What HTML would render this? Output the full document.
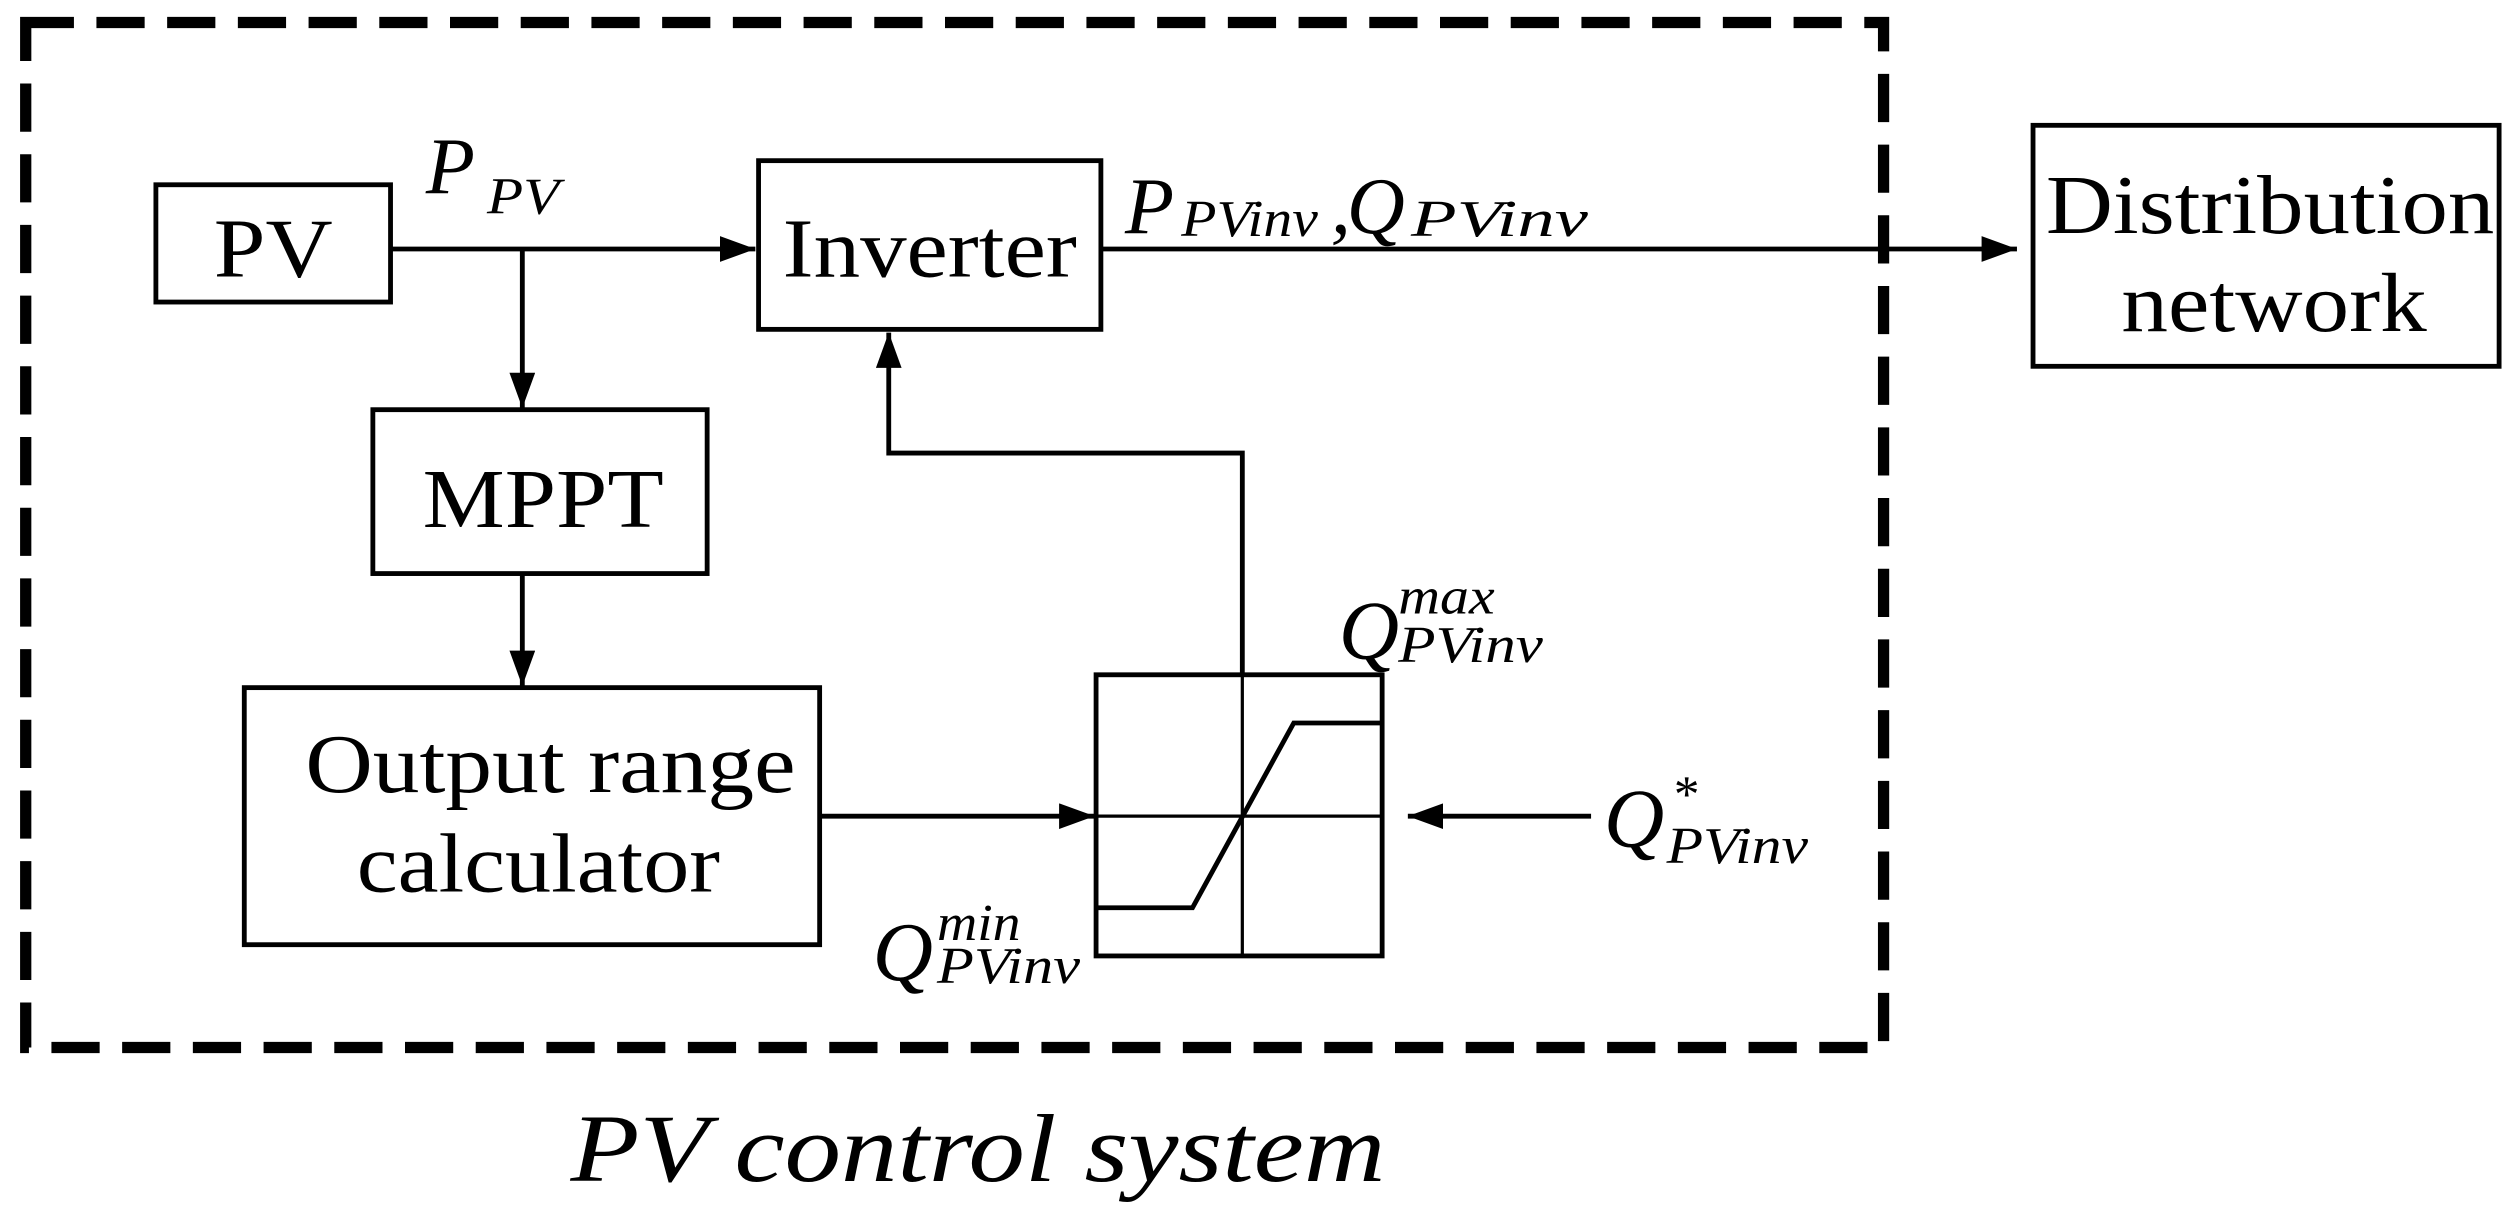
<!DOCTYPE html>
<html><head><style>html,body{margin:0;padding:0;background:#fff}svg{display:block}</style></head>
<body>
<svg width="2520" height="1213" viewBox="0 0 1568 755" preserveAspectRatio="none" xmlns="http://www.w3.org/2000/svg" font-family="Liberation Serif, serif">
<defs>
<marker id="b" markerWidth="22" markerHeight="16" refX="22" refY="8" orient="auto" markerUnits="userSpaceOnUse"><path d="M0,0L22,8L0,16z" fill="#000"/></marker></defs>
<rect x="16" y="14" width="1156" height="638" fill="none" stroke="#000" stroke-width="7" stroke-dasharray="30,14"/>
<g fill="none" stroke="#000" stroke-width="3">
<rect x="97" y="115" width="146" height="73"/>
<rect x="472" y="100" width="213" height="105"/>
<rect x="1265" y="78" width="290" height="150"/>
<rect x="232" y="255" width="208" height="102"/>
<rect x="152" y="428" width="358" height="160"/>
<rect x="682" y="420" width="178" height="175"/>
<path d="M773,420V595M682,508H860" stroke-width="2"/>
<path d="M682,565H742L805,450H860"/>
<path d="M243,155H470" marker-end="url(#b)"/>
<path d="M685,155H1255" marker-end="url(#b)"/>
<path d="M325,155V254" marker-end="url(#b)"/>
<path d="M325,357V427" marker-end="url(#b)"/>
<path d="M510,508H681" marker-end="url(#b)"/>
<path d="M990,508H876" marker-end="url(#b)"/>
<path d="M773,420V282H553V207" marker-end="url(#b)"/>
</g>
<g font-size="52" lengthAdjust="spacingAndGlyphs">
<text x="133" y="172" textLength="74" lengthAdjust="spacingAndGlyphs">PV</text>
<text x="487" y="172" textLength="183" lengthAdjust="spacingAndGlyphs">Inverter</text>
<text x="263" y="328" textLength="150" lengthAdjust="spacingAndGlyphs">MPPT</text>
<text x="1273" y="145" textLength="279" lengthAdjust="spacingAndGlyphs">Distribution</text>
<text x="1320" y="206" textLength="190" lengthAdjust="spacingAndGlyphs">network</text>
<text x="190" y="493" textLength="305" lengthAdjust="spacingAndGlyphs">Output range</text>
<text x="222" y="555" textLength="226" lengthAdjust="spacingAndGlyphs">calculator</text>
</g>
<g font-style="italic">
<text x="265" y="120" font-size="50">P</text><text x="303" y="133" font-size="32" textLength="45" lengthAdjust="spacingAndGlyphs">PV</text>
<text x="700" y="145" font-size="50">P</text><text x="735" y="147" font-size="32" textLength="85" lengthAdjust="spacingAndGlyphs">PVinv</text>
<text x="828" y="145" font-size="50">,</text>
<text x="838" y="145" font-size="50">Q</text><text x="878" y="147" font-size="32" textLength="110" lengthAdjust="spacingAndGlyphs">PVinv</text>
<text x="833" y="410" font-size="52">Q</text><text x="870" y="382" font-size="32" textLength="60" lengthAdjust="spacingAndGlyphs">max</text><text x="870" y="412" font-size="32" textLength="90" lengthAdjust="spacingAndGlyphs">PVinv</text>
<text x="543" y="610" font-size="52">Q</text><text x="583" y="585" font-size="32" textLength="52" lengthAdjust="spacingAndGlyphs">min</text><text x="583" y="612" font-size="32" textLength="89" lengthAdjust="spacingAndGlyphs">PVinv</text>
<text x="998" y="527" font-size="52">Q</text><text x="1040" y="505" font-size="32">*</text><text x="1037" y="537" font-size="32" textLength="88" lengthAdjust="spacingAndGlyphs">PVinv</text>
<text x="355" y="735" font-size="60" textLength="507" lengthAdjust="spacingAndGlyphs">PV control system</text>
</g>
</svg>
</body></html>
